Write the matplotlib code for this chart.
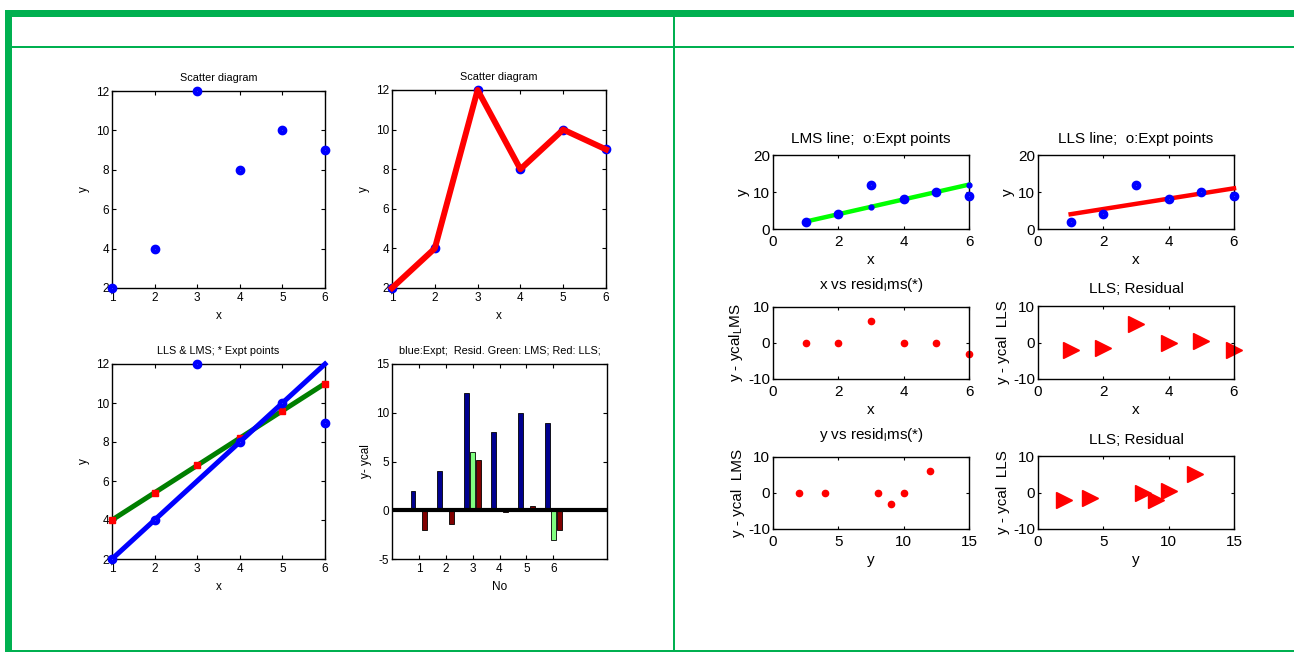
import matplotlib
matplotlib.use('Agg')
import matplotlib.pyplot as plt
from matplotlib.patches import Rectangle

plt.rcParams['font.family'] = ['Liberation Sans', 'DejaVu Sans']
plt.rcParams['mathtext.default'] = 'regular'
plt.rcParams['axes.unicode_minus'] = False

# ---- data ----
x = [1, 2, 3, 4, 5, 6]
y = [2, 4, 12, 8, 10, 9]
lms_fit = [2, 4, 6, 8, 10, 12]
lls_fit = [4.0, 5.4, 6.8, 8.2, 9.6, 11.0]
lms_resid = [0, 0, 6, 0, 0, -3]
lls_resid = [-2, -1.4, 5.2, -0.2, 0.4, -2]
bar_no = [1, 2, 3, 4, 5, 6]

W, H = 1294, 652
fig = plt.figure(figsize=(12.94, 6.52), dpi=100)
GREEN = '#00B050'


def ax_px(l, t, r, b):
    return fig.add_axes([l / W, 1 - b / H, (r - l) / W, (b - t) / H])


def rect(x0, y0, x1, y1):
    fig.add_artist(Rectangle((x0 / W, 1 - y1 / H), (x1 - x0) / W, (y1 - y0) / H,
                             transform=fig.transFigure, color=GREEN, lw=0))


def style(ax, fs, tl=3, xpad=3, ypad=2):
    ax.tick_params(direction='in', top=True, right=True, length=tl, width=0.8,
                   labelsize=fs)
    ax.tick_params(axis='x', pad=xpad)
    ax.tick_params(axis='y', pad=ypad)
    for s in ax.spines.values():
        s.set_linewidth(1.0)


def bigdots(ax, xs, ys, ms=3.8, mew=3.2):
    ax.plot(xs, ys, 'o', mfc='white', mec='blue', ms=ms, mew=mew, ls='none',
            clip_on=False, zorder=5)


# ---- frame ----
rect(5, 10, 1294, 17)
rect(5, 10, 12, 652)
rect(12, 45.5, 1294, 47.5)
rect(673, 17, 675, 650)
rect(12, 649.5, 1294, 651.5)

FS_L = 8.5
FS_T = 7.8

# ---- left cell ----
ax1 = ax_px(112, 91, 325, 288)
bigdots(ax1, x, y)
ax1.set_xlim(1, 6); ax1.set_ylim(2, 12)
ax1.set_xticks(x); ax1.set_yticks([2, 4, 6, 8, 10, 12])
ax1.set_title('Scatter diagram', fontsize=FS_T, pad=7)
ax1.set_xlabel('x', fontsize=FS_L, labelpad=4)
ax1.set_ylabel('y', fontsize=FS_L, labelpad=4)
style(ax1, FS_L)

ax2 = ax_px(392, 90, 606, 288)
bigdots(ax2, x, y)
ax2.plot(x, y, color='red', lw=4.3, zorder=6, clip_on=False)
ax2.set_xlim(1, 6); ax2.set_ylim(2, 12)
ax2.set_xticks(x); ax2.set_yticks([2, 4, 6, 8, 10, 12])
ax2.set_title('Scatter diagram', fontsize=FS_T, pad=7)
ax2.set_xlabel('x', fontsize=FS_L, labelpad=4)
ax2.set_ylabel('y', fontsize=FS_L, labelpad=4)
style(ax2, FS_L)

ax3 = ax_px(112, 364, 325, 559)
ax3.plot(x, lls_fit, color='#007F00', lw=3.6, zorder=3, clip_on=False)
ax3.plot(x, lls_fit, 's', color='red', ms=4, zorder=4, clip_on=False)
ax3.plot(x, lms_fit, color='blue', lw=3.6, zorder=4, clip_on=False)
bigdots(ax3, x, y)
ax3.set_xlim(1, 6); ax3.set_ylim(2, 12)
ax3.set_xticks(x); ax3.set_yticks([2, 4, 6, 8, 10, 12])
ax3.set_title('LLS & LMS; * Expt points', fontsize=FS_T, pad=7)
ax3.set_xlabel('x', fontsize=FS_L, labelpad=4)
ax3.set_ylabel('y', fontsize=FS_L, labelpad=4)
style(ax3, FS_L)

ax4 = ax_px(392, 364, 607, 559)
bw = 0.178
off = 0.222
ax4.bar([n - off for n in bar_no], y, width=bw, color='#00008F', edgecolor='black', lw=0.6, zorder=3)
ax4.bar(bar_no, lms_resid, width=bw, color='#80FF80', edgecolor='black', lw=0.6, zorder=3)
ax4.bar([n + off for n in bar_no], lls_resid, width=bw, color='#800000', edgecolor='black', lw=0.6, zorder=3)
ax4.axhline(0, color='black', lw=3, zorder=4)
ax4.set_xlim(0, 8); ax4.set_ylim(-5, 15)
ax4.set_xticks(bar_no); ax4.set_yticks([-5, 0, 5, 10, 15])
ax4.set_title('blue:Expt;  Resid. Green: LMS; Red: LLS;', fontsize=FS_T, pad=7)
ax4.set_xlabel('No', fontsize=FS_L, labelpad=4)
ax4.set_ylabel('y- ycal', fontsize=FS_L, labelpad=3)
style(ax4, FS_L)

# ---- right cell ----
FS_R = 11

ax5 = ax_px(773, 155, 969, 229)
ax5.plot(x, lms_fit, color='#00FF00', lw=3.2, zorder=3, clip_on=False)
bigdots(ax5, x, y, ms=3.8, mew=3.2)
ax5.plot(x, lms_fit, 'o', color='blue', ms=3.5, zorder=6, clip_on=False)
ax5.set_xlim(0, 6); ax5.set_ylim(0, 20)
ax5.set_xticks([0, 2, 4, 6]); ax5.set_yticks([0, 10, 20])
ax5.set_title('LMS line;  o:Expt points', fontsize=FS_R, pad=9)
ax5.set_xlabel('x', fontsize=FS_R, labelpad=3)
ax5.set_ylabel('y', fontsize=FS_R, labelpad=2)
style(ax5, FS_R, tl=2, xpad=4)

ax6 = ax_px(1038, 155, 1234, 229)
ax6.plot(x, lls_fit, color='red', lw=3.2, zorder=3, clip_on=False)
bigdots(ax6, x, y, ms=3.8, mew=3.2)
ax6.set_xlim(0, 6); ax6.set_ylim(0, 20)
ax6.set_xticks([0, 2, 4, 6]); ax6.set_yticks([0, 10, 20])
ax6.set_title('LLS line;  o:Expt points', fontsize=FS_R, pad=9)
ax6.set_xlabel('x', fontsize=FS_R, labelpad=3)
ax6.set_ylabel('y', fontsize=FS_R, labelpad=2)
style(ax6, FS_R, tl=2, xpad=4)

ax7 = ax_px(773, 307, 969, 379)
ax7.plot(x, lms_resid, 'o', color='red', ms=4.5, clip_on=False)
ax7.set_xlim(0, 6); ax7.set_ylim(-10, 10)
ax7.set_xticks([0, 2, 4, 6]); ax7.set_yticks([-10, 0, 10])
ax7.set_title('x vs resid$_{l}$ms(*)', fontsize=FS_R, pad=13)
ax7.set_xlabel('x', fontsize=FS_R, labelpad=3)
ax7.set_ylabel('y - ycal$_{L}$MS', fontsize=FS_R, labelpad=2)
style(ax7, FS_R, tl=2, xpad=4)

ax8 = ax_px(1038, 306, 1234, 379)
ax8.plot(x, lls_resid, '>', color='red', ms=11, clip_on=False)
ax8.set_xlim(0, 6); ax8.set_ylim(-10, 10)
ax8.set_xticks([0, 2, 4, 6]); ax8.set_yticks([-10, 0, 10])
ax8.set_title('LLS; Residual', fontsize=FS_R, pad=9)
ax8.set_xlabel('x', fontsize=FS_R, labelpad=3)
ax8.set_ylabel('y - ycal  LLS', fontsize=FS_R, labelpad=2)
style(ax8, FS_R, tl=2, xpad=4)

ax9 = ax_px(773, 457, 969, 529)
ax9.plot(y, lms_resid, 'o', color='red', ms=4.5, clip_on=False)
ax9.set_xlim(0, 15); ax9.set_ylim(-10, 10)
ax9.set_xticks([0, 5, 10, 15]); ax9.set_yticks([-10, 0, 10])
ax9.set_title('y vs resid$_{l}$ms(*)', fontsize=FS_R, pad=13)
ax9.set_xlabel('y', fontsize=FS_R, labelpad=3)
ax9.set_ylabel('y - ycal  LMS', fontsize=FS_R, labelpad=2)
style(ax9, FS_R, tl=2, xpad=4)

ax10 = ax_px(1038, 456, 1234, 529)
ax10.plot(y, lls_resid, '>', color='red', ms=11, clip_on=False)
ax10.set_xlim(0, 15); ax10.set_ylim(-10, 10)
ax10.set_xticks([0, 5, 10, 15]); ax10.set_yticks([-10, 0, 10])
ax10.set_title('LLS; Residual', fontsize=FS_R, pad=9)
ax10.set_xlabel('y', fontsize=FS_R, labelpad=3)
ax10.set_ylabel('y - ycal  LLS', fontsize=FS_R, labelpad=2)
style(ax10, FS_R, tl=2, xpad=4)

fig.savefig('out.png', dpi=100)
